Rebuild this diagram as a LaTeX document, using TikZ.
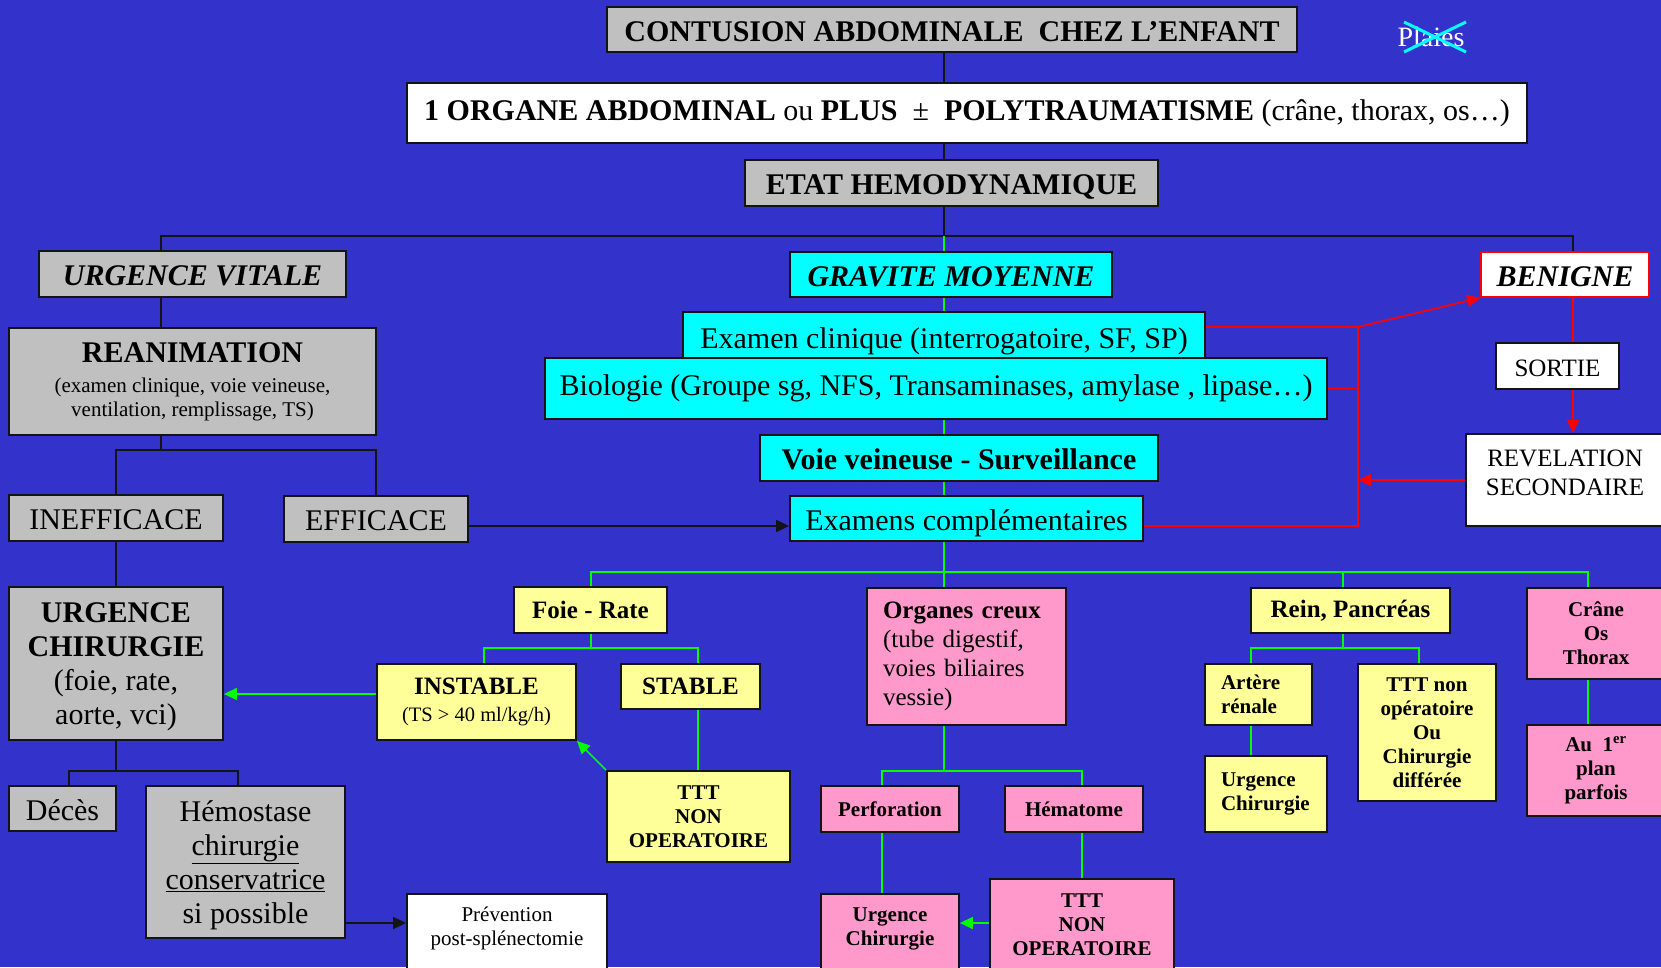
\documentclass[tikz,border=0pt]{standalone}
\usepackage{fontspec}
\setmainfont{Liberation Serif}
\usetikzlibrary{arrows.meta}
\definecolor{fond}{RGB}{51,51,204}
\definecolor{gris}{RGB}{192,192,192}
\definecolor{turquoise}{RGB}{0,255,255}
\definecolor{jaune}{RGB}{255,255,153}
\definecolor{rose}{RGB}{255,153,204}
\definecolor{vert}{RGB}{0,255,0}
\definecolor{rouge}{RGB}{255,0,0}
\definecolor{trait}{RGB}{20,20,20}
\tikzset{
	boite/.style={draw=trait, line width=1.8pt, inner sep=0pt, align=center, text=black},
	grise/.style={boite, fill=gris},
	bleue/.style={boite, fill=turquoise},
	jaunebox/.style={boite, fill=jaune},
	rosebox/.style={boite, fill=rose},
	blanche/.style={boite, fill=white},
	t30/.style={font=\fontsize{30}{34}\selectfont},
	l30/.style={text height=25pt, text depth=2pt},
	t25/.style={font=\fontsize{25}{29}\selectfont},
	t21/.style={font=\fontsize{21}{24}\selectfont},
	t21b/.style={font=\fontsize{21}{24}\selectfont\bfseries},
	bas/.style={anchor=north, text height=52pt, text depth=56pt},
	noir/.style={draw=trait, line width=1.8pt},
	vertt/.style={draw=vert, line width=1.5pt},
	rougetrait/.style={draw=rouge, line width=1.8pt},
	fleche/.style={-{Triangle[length=13pt,width=12pt]}},
}

\begin{document}
\begin{tikzpicture}[x=1pt,y=-1pt]
			%%%%% START %%%%%
			\useasboundingbox (0,0) rectangle (1661,967);
			\fill[fond] (0,0) rectangle (1661,967);
			\clip (0,0) rectangle (1661,967);
			
			\coordinate (tronc) at (944,0);
			\coordinate (bus) at (0,236);
			\coordinate (busG) at (161,236);
			\coordinate (busD) at (1573,236);
			
			\node[grise,t30,l30,minimum width=690,minimum height=45] (titre) at (952,29.5) {\textbf{CONTUSION ABDOMINALE\ \ CHEZ L’ENFANT}};
			\node[text=white,font=\fontsize{28}{32}\selectfont] (plaies) at (1431,37) {Plaies};
			\draw[turquoise,line width=3pt] (1404,22) -- (1466,52) (1404,52) -- (1466,22);
			\node[blanche,t30,minimum width=1120,minimum height=60] (organe) at (967,113) {\textbf{1 ORGANE ABDOMINAL} ou \textbf{PLUS}\ \ ±\ \ \textbf{POLYTRAUMATISME} (crâne, thorax, os…)};
			\node[grise,t30,l30,minimum width=413,minimum height=46] (etat) at (951.5,183) {\textbf{ETAT HEMODYNAMIQUE}};
			
			% urgence vitale
			\node[grise,t30,l30,minimum width=307,minimum height=46] (uvitale) at (192.5,274) {\textbf{\textit{URGENCE VITALE}}};
			\node[grise,t21,minimum width=367,minimum height=107] (reanim) at (192.5,381.5) {{\fontsize{30}{34}\selectfont\bfseries REANIMATION}\\[6pt](examen clinique, voie veineuse,\\ventilation, remplissage, TS)};
			\node[grise,t30,l30,minimum width=214,minimum height=46] (inefficace) at (116,518) {INEFFICACE};
			\node[grise,t30,l30,minimum width=184,minimum height=46] (efficace) at (376,519) {EFFICACE};
			\node[grise,t30,text height=137pt,text depth=16pt,minimum width=214] (urgchir) at (116,663.5) {\textbf{URGENCE}\\\textbf{CHIRURGIE}\\(foie, rate,\\aorte, vci)};
			\node[grise,t30,l30,minimum width=107,minimum height=45] (deces) at (62.5,808.5) {Décès};
			\node[grise,t30,text height=137pt,text depth=15pt,minimum width=199] (hemostase) at (245.5,862) {Hémostase\\\underline{chirurgie}\\\underline{conservatrice}\\si possible};
			\node[blanche,t21,bas,minimum width=200] (prevention) at (507,893) {Prévention\\post-splénectomie};
			
			% gravite moyenne
			\node[bleue,t30,l30,minimum width=322,minimum height=45] (gravite) at (951,274.5) {\textbf{\textit{GRAVITE MOYENNE}}};
			\node[bleue,t30,l30,minimum width=522,minimum height=50] (examen) at (944,337) {Examen clinique (interrogatoire, SF, SP)};
			\node[bleue,t30,minimum width=782,minimum height=61] (biologie) at (936,388.5) {Biologie (Groupe sg, NFS, Transaminases, amylase , lipase…)};
			\node[bleue,t30,l30,minimum width=398,minimum height=46] (voie) at (959,458) {\textbf{Voie veineuse - Surveillance}};
			\node[bleue,t30,l30,minimum width=353,minimum height=45] (examens) at (966.5,518.5) {Examens complémentaires};
			
			% benigne
			\node[blanche,t30,l30,draw=rouge,minimum width=168,minimum height=45] (benigne) at (1565,274.5) {\textbf{\textit{BENIGNE}}};
			\node[blanche,t25,text height=22pt,text depth=1pt,minimum width=123,minimum height=46] (sortie) at (1557.5,366) {SORTIE};
			\node[blanche,t25,text height=61pt,text depth=31pt,minimum width=198] (revelation) at (1565,480) {REVELATION\\SECONDAIRE};
			
			% bilan lesionnel
			\node[jaunebox,t25,minimum width=153,minimum height=46] (foie) at (590.5,610) {\textbf{Foie - Rate}};
			\node[jaunebox,font=\fontsize{20.5}{27}\selectfont,minimum width=199,minimum height=76] (instable) at (476.5,702) {{\fontsize{25}{29}\selectfont\bfseries INSTABLE}\\(TS > 40 ml/kg/h)};
			\node[jaunebox,t25,minimum width=139,minimum height=45] (stable) at (690.5,686.5) {\textbf{STABLE}};
			\node[jaunebox,t21b,minimum width=183,minimum height=91] (tttjaune) at (698.5,816.5) {TTT\\NON\\OPERATOIRE};
			
			\node[rosebox,t25,align=left,text width=167pt,inner xsep=16pt,minimum height=137] (organes) at (966.5,656.5) {\textbf{Organes creux}\\(tube digestif,\\voies biliaires\\vessie)};
			\node[rosebox,t21b,minimum width=138,minimum height=46] (perforation) at (890,809) {Perforation};
			\node[rosebox,t21b,minimum width=138,minimum height=46] (hematome) at (1074,809) {Hématome};
			\node[rosebox,t21b,bas,minimum width=138] (urgrose) at (890,893) {Urgence\\Chirurgie};
			\node[rosebox,t21b,bas,text height=77pt,text depth=40pt,minimum width=184] (tttrose) at (1082,878) {TTT\\NON\\OPERATOIRE};
			
			\node[jaunebox,t25,minimum width=199,minimum height=45] (rein) at (1350.5,610.5) {\textbf{Rein, Pancréas}};
			\node[jaunebox,t21b,align=left,text width=75pt,inner xsep=16pt,minimum height=61] (artere) at (1258.5,694.5) {Artère\\rénale};
			\node[jaunebox,t21b,align=left,text width=90pt,inner xsep=16pt,minimum height=76] (urgjaune) at (1266,794) {Urgence\\Chirurgie};
			\node[jaunebox,t21b,minimum width=138,minimum height=137] (tttnon) at (1427,732.5) {TTT non\\opératoire\\Ou\\Chirurgie\\différée};
			
			\node[rosebox,t21b,minimum width=138,minimum height=91] (crane) at (1596,633.5) {Crâne\\Os\\Thorax};
			\node[rosebox,t21b,minimum width=138,minimum height=91] (au1er) at (1596,770.5) {Au\ \ 1\textsuperscript{er}\\plan\\parfois};
			
			% traits noirs
			\draw[noir] (titre.south -| tronc) -- (organe.north -| tronc);
			\draw[noir] (organe.south -| tronc) -- (etat.north -| tronc);
			\draw[noir] (etat.south -| tronc) -- (tronc |- bus);
			\draw[noir] (uvitale.north -| busG) -- (busG) -- (busD) -- (benigne.north -| busD);
			\draw[noir] (uvitale.south -| busG) -- (reanim.north -| busG);
			\coordinate (r1) at (116,450);
			\coordinate (r2) at (376,450);
			\draw[noir] (reanim.south -| busG) -- (busG |- r1);
			\draw[noir] (inefficace.north -| r1) -- (r1) -- (r2) -- (efficace.north -| r2);
			\draw[noir] (inefficace.south) -- (urgchir.north);
			\coordinate (d1) at (69,771);
			\coordinate (d2) at (238,771);
			\draw[noir] (urgchir.south) -- (urgchir.south |- d1);
			\draw[noir] (deces.north -| d1) -- (d1) -- (d2) -- (hemostase.north -| d2);
			\coordinate (yA) at (0,526);
			\coordinate (yB) at (0,923);
			\draw[noir,fleche] (efficace.east |- yA) -- (examens.west |- yA);
			\draw[noir,fleche] (hemostase.east |- yB) -- (prevention.west |- yB);
			
			% traits rouges
			\coordinate (rH) at (1358,327);
			\coordinate (rB) at (1358,526);
			\draw[rougetrait] (examen.east |- rH) -- (rH) -- (rB) -- (examens.east |- rB);
			\draw[rougetrait] (biologie.east) -- (biologie.east -| rH);
			\draw[rougetrait,fleche] (rH) -- (benigne.south west);
			\draw[rougetrait] (benigne.south -| busD) -- (sortie.north -| busD);
			\draw[rougetrait,fleche] (sortie.south -| busD) -- (revelation.north -| busD);
			\draw[rougetrait,fleche] (revelation.west) -- (revelation.west -| rH);
			
			% traits verts
			\coordinate (gbus) at (0,572);
			\coordinate (g1) at (591,572);
			\coordinate (g3) at (1343,572);
			\coordinate (g4) at (1588,572);
			\draw[vertt] (tronc |- bus) -- (gravite.north -| tronc);
			\draw[vertt] (gravite.south -| tronc) -- (examen.north -| tronc);
			\draw[vertt] (biologie.south -| tronc) -- (voie.north -| tronc);
			\draw[vertt] (voie.south -| tronc) -- (examens.north -| tronc);
			\draw[vertt] (examens.south -| tronc) -- (organes.north -| tronc);
			\draw[vertt] (foie.north -| g1) -- (g1) -- (g4) -- (crane.north -| g4);
			\draw[vertt] (rein.north -| g3) -- (g3);
			\coordinate (f1) at (484,648);
			\coordinate (f2) at (698,648);
			\draw[vertt] (foie.south -| g1) -- (g1 |- f1);
			\draw[vertt] (instable.north -| f1) -- (f1) -- (f2) -- (stable.north -| f2);
			\draw[vertt] (stable.south -| f2) -- (tttjaune.north -| f2);
			\coordinate (yC) at (0,694);
			\draw[vertt,fleche] (instable.west |- yC) -- (urgchir.east |- yC);
			\draw[vertt,fleche] (tttjaune.north west) -- (instable.south east);
			\coordinate (o1) at (882,771);
			\coordinate (o2) at (1082,771);
			\draw[vertt] (organes.south -| tronc) -- (tronc |- o1);
			\draw[vertt] (perforation.north -| o1) -- (o1) -- (o2) -- (hematome.north -| o2);
			\draw[vertt] (perforation.south -| o1) -- (urgrose.north -| o1);
			\draw[vertt] (hematome.south -| o2) -- (tttrose.north -| o2);
			\draw[vertt,fleche] (tttrose.west |- yB) -- (urgrose.east |- yB);
			\coordinate (n1) at (1251,648);
			\coordinate (n2) at (1419,648);
			\draw[vertt] (rein.south -| g3) -- (g3 |- n1);
			\draw[vertt] (artere.north -| n1) -- (n1) -- (n2) -- (tttnon.north -| n2);
			\draw[vertt] (artere.south -| n1) -- (urgjaune.north -| n1);
			\draw[vertt] (crane.south -| g4) -- (au1er.north -| g4);
			%%%%% END %%%%%
\end{tikzpicture}
\end{document}
